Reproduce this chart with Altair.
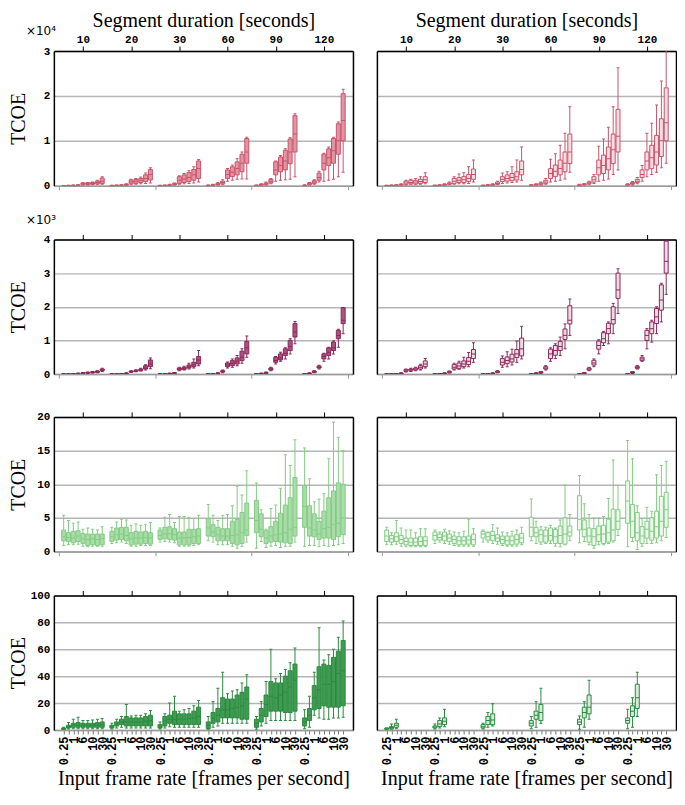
import altair as alt
import pandas as pd
import json

DURATIONS = ["10", "20", "30", "60", "90", "120"]
FPS_LABELS = ["0.25", "", "1", "", "6", "", "10", "", "30"]
TOP_TITLE = "Segment duration [seconds]"
BOTTOM_TITLE = "Input frame rate [frames per second]"
Y_TITLE = "TCOE"
Y_MAX = [3, 4, 20, 100]
Y_TICKS = [[0, 1, 2, 3], [0, 1, 2, 3, 4], [0, 5, 10, 15, 20], [0, 20, 40, 60, 80, 100]]
MULTIPLIERS = ["×10⁴", "×10³", "", ""]

# ---- data: per panel, per segment duration group, per frame-rate slot ----
# Row 1 (x10^4)
R1L = {
    "lo":  [[0,0,0,0,0.01,0.01,0.02,0.02,0.03],[0,0,0,0.005,0.02,0.03,0.04,0.05,0.06],[0,0,0,0.01,0.03,0.04,0.05,0.06,0.08],
            [0,0,0.01,0.02,0.1,0.12,0.14,0.15,0.15],[0,0,0.01,0.04,0.1,0.12,0.13,0.14,0.2],[0,0.01,0.03,0.08,0.1,0.12,0.14,0.2,0.3]],
    "q1":  [[0,0,0,0.005,0.02,0.025,0.03,0.04,0.05],[0,0,0.005,0.01,0.04,0.05,0.07,0.09,0.125],[0,0,0.005,0.02,0.05,0.07,0.09,0.12,0.16],
            [0,0.01,0.02,0.04,0.16,0.2,0.24,0.31,0.5],[0,0.005,0.02,0.06,0.24,0.31,0.35,0.49,0.75],[0,0.02,0.05,0.12,0.35,0.45,0.5,0.7,1.0]],
    "med": [[0,0,0.005,0.01,0.04,0.045,0.05,0.07,0.1],[0,0.005,0.01,0.02,0.08,0.1,0.12,0.16,0.25],[0,0.005,0.01,0.03,0.12,0.15,0.18,0.24,0.38],
            [0.005,0.015,0.03,0.07,0.25,0.3,0.38,0.5,0.75],[0.005,0.02,0.04,0.1,0.35,0.45,0.55,0.75,1.15],[0.005,0.04,0.08,0.18,0.5,0.62,0.78,1.0,1.45]],
    "q3":  [[0,0.005,0.01,0.015,0.06,0.065,0.07,0.1,0.17],[0.005,0.01,0.015,0.03,0.125,0.14,0.16,0.24,0.36],[0.005,0.01,0.02,0.05,0.2,0.24,0.29,0.36,0.55],
            [0.01,0.02,0.05,0.1,0.35,0.42,0.53,0.7,1.05],[0.01,0.03,0.06,0.14,0.53,0.64,0.79,1.04,1.56],[0.01,0.06,0.11,0.28,0.7,0.82,1.05,1.38,2.05]],
    "hi":  [[0.005,0.01,0.015,0.02,0.065,0.07,0.08,0.12,0.2],[0.01,0.015,0.02,0.04,0.14,0.16,0.19,0.28,0.4],[0.01,0.015,0.03,0.06,0.22,0.27,0.33,0.42,0.58],
            [0.015,0.03,0.07,0.13,0.38,0.46,0.6,0.75,1.08],[0.015,0.04,0.08,0.16,0.55,0.67,0.82,1.07,1.6],[0.02,0.07,0.13,0.32,0.72,0.86,1.08,1.42,2.15]],
}
R1R = {
    "lo":  [[0,0,0,0.005,0.01,0.02,0.02,0.03,0.04],[0,0,0.005,0.02,0.03,0.04,0.04,0.05,0.08],[0,0,0.005,0.02,0.05,0.06,0.07,0.08,0.12],
            [0,0.005,0.01,0.03,0.08,0.1,0.12,0.15,0.3],[0,0.01,0.02,0.05,0.1,0.12,0.15,0.25,0.35],[0,0.01,0.04,0.1,0.2,0.25,0.3,0.4,0.5]],
    "q1":  [[0,0,0.005,0.01,0.03,0.04,0.04,0.05,0.07],[0,0.005,0.01,0.03,0.05,0.07,0.07,0.09,0.14],[0,0.005,0.01,0.03,0.09,0.1,0.11,0.125,0.24],
            [0.005,0.01,0.02,0.05,0.16,0.2,0.24,0.31,0.49],[0.005,0.02,0.04,0.08,0.24,0.27,0.35,0.49,0.75],[0.01,0.03,0.07,0.18,0.35,0.38,0.46,0.65,1.0]],
    "med": [[0,0.005,0.01,0.02,0.06,0.07,0.08,0.09,0.13],[0.005,0.01,0.02,0.04,0.1,0.12,0.13,0.16,0.25],[0.005,0.01,0.02,0.05,0.14,0.16,0.18,0.2,0.36],
            [0.01,0.02,0.04,0.08,0.27,0.32,0.38,0.5,0.75],[0.01,0.03,0.06,0.13,0.4,0.45,0.6,0.8,1.1],[0.02,0.05,0.1,0.25,0.55,0.62,0.75,1.0,1.4]],
    "q3":  [[0.005,0.01,0.015,0.03,0.1,0.12,0.12,0.14,0.2],[0.01,0.015,0.03,0.06,0.16,0.18,0.2,0.25,0.37],[0.01,0.015,0.03,0.08,0.2,0.24,0.27,0.31,0.55],
            [0.015,0.03,0.06,0.12,0.38,0.46,0.57,0.75,1.15],[0.02,0.04,0.08,0.2,0.57,0.68,0.86,1.15,1.7],[0.03,0.07,0.14,0.35,0.75,0.9,1.12,1.49,2.18]],
    "hi":  [[0.01,0.015,0.02,0.04,0.12,0.14,0.16,0.2,0.29],[0.01,0.02,0.04,0.08,0.2,0.26,0.29,0.42,0.57],[0.01,0.02,0.04,0.1,0.28,0.31,0.42,0.57,0.86],
            [0.02,0.04,0.08,0.16,0.59,0.71,0.9,1.17,1.76],[0.03,0.05,0.1,0.25,0.88,1.04,1.3,1.76,2.63],[0.04,0.09,0.18,0.45,1.17,1.39,1.8,2.33,3.3]],
}
# Row 2 (x10^3)
R2L = {
    "lo":  [[0,0,0,0,0.01,0.02,0.03,0.04,0.08],[0,0,0,0.005,0.05,0.07,0.09,0.12,0.16],[0,0,0,0.01,0.1,0.12,0.15,0.18,0.25],
            [0,0,0.01,0.04,0.18,0.2,0.25,0.32,0.5],[0,0,0.01,0.1,0.3,0.38,0.45,0.6,0.9],[0,0.005,0.04,0.15,0.38,0.45,0.6,0.8,1.2]],
    "q1":  [[0,0,0,0.01,0.02,0.03,0.04,0.05,0.1],[0,0,0.005,0.01,0.06,0.08,0.1,0.15,0.22],[0,0,0.005,0.02,0.12,0.14,0.18,0.22,0.3],
            [0,0.005,0.02,0.06,0.22,0.25,0.3,0.4,0.6],[0,0.01,0.02,0.12,0.35,0.42,0.55,0.7,1.1],[0,0.01,0.05,0.18,0.45,0.55,0.7,1.05,1.5]],
    "med": [[0,0,0.005,0.015,0.03,0.04,0.05,0.07,0.12],[0,0.005,0.01,0.02,0.07,0.09,0.12,0.18,0.3],[0,0.005,0.01,0.03,0.15,0.17,0.22,0.28,0.42],
            [0.005,0.01,0.025,0.08,0.27,0.32,0.38,0.5,0.78],[0.005,0.015,0.03,0.15,0.4,0.48,0.62,0.82,1.25],[0.005,0.02,0.07,0.2,0.52,0.65,0.78,1.15,1.6]],
    "q3":  [[0,0.005,0.01,0.02,0.04,0.05,0.07,0.09,0.15],[0.005,0.01,0.015,0.03,0.09,0.11,0.15,0.25,0.42],[0.005,0.01,0.02,0.04,0.18,0.2,0.27,0.35,0.52],
            [0.01,0.015,0.03,0.1,0.33,0.4,0.48,0.68,0.97],[0.01,0.02,0.05,0.18,0.5,0.6,0.75,1.0,1.5],[0.01,0.03,0.09,0.24,0.6,0.78,0.95,1.3,1.97]],
    "hi":  [[0.005,0.01,0.015,0.03,0.05,0.06,0.08,0.1,0.17],[0.01,0.015,0.02,0.04,0.1,0.13,0.17,0.28,0.48],[0.01,0.015,0.03,0.05,0.2,0.23,0.32,0.45,0.7],
            [0.015,0.02,0.04,0.12,0.36,0.45,0.55,0.75,1.13],[0.015,0.03,0.06,0.2,0.52,0.65,0.78,1.05,1.56],[0.015,0.04,0.1,0.26,0.62,0.8,0.98,1.33,1.98]],
}
R2R = {
    "lo":  [[0,0,0,0.005,0.06,0.08,0.1,0.12,0.18],[0,0,0.005,0.03,0.12,0.14,0.18,0.22,0.35],[0,0,0.005,0.04,0.2,0.22,0.27,0.35,0.45],
            [0,0.005,0.02,0.12,0.38,0.46,0.55,0.75,1.15],[0,0.01,0.1,0.22,0.6,0.85,0.9,1.2,1.8],[0,0.02,0.15,0.38,0.75,0.95,1.2,1.55,2.37]],
    "q1":  [[0,0,0.005,0.01,0.08,0.1,0.12,0.15,0.22],[0,0.005,0.01,0.04,0.15,0.17,0.22,0.28,0.46],[0,0.005,0.01,0.05,0.27,0.31,0.36,0.49,0.54],
            [0,0.01,0.03,0.15,0.46,0.56,0.7,1.03,1.49],[0,0.02,0.12,0.27,0.74,0.93,1.2,1.49,2.25],[0,0.03,0.17,0.4,1.0,1.2,1.5,1.9,3.0]],
    "med": [[0,0.005,0.01,0.02,0.1,0.13,0.15,0.2,0.3],[0.005,0.01,0.02,0.06,0.2,0.24,0.3,0.38,0.6],[0.005,0.01,0.02,0.07,0.35,0.4,0.45,0.6,0.75],
            [0.005,0.02,0.05,0.18,0.6,0.7,0.82,1.15,1.6],[0.005,0.03,0.15,0.33,0.85,1.05,1.35,1.62,2.5],[0.005,0.05,0.2,0.45,1.15,1.35,1.7,2.2,3.35]],
    "q3":  [[0.005,0.01,0.015,0.03,0.13,0.15,0.18,0.25,0.39],[0.01,0.015,0.03,0.08,0.28,0.33,0.39,0.49,0.73],[0.01,0.015,0.03,0.09,0.46,0.51,0.59,0.73,1.07],
            [0.01,0.03,0.07,0.22,0.74,0.85,0.97,1.34,2.03],[0.01,0.04,0.18,0.41,0.98,1.23,1.51,2.0,3.0],[0.01,0.07,0.23,0.5,1.3,1.55,1.95,2.65,3.95]],
    "hi":  [[0.01,0.015,0.02,0.04,0.15,0.17,0.2,0.29,0.46],[0.015,0.02,0.04,0.09,0.32,0.38,0.5,0.64,0.93],[0.015,0.02,0.04,0.1,0.54,0.66,0.74,0.98,1.42],
            [0.015,0.04,0.08,0.25,0.78,0.9,1.1,1.49,2.23],[0.015,0.05,0.2,0.45,1.02,1.27,1.55,2.1,3.13],[0.015,0.08,0.25,0.55,1.35,1.6,2.0,2.7,4.3]],
}
# Row 3
R3L = {
    "lo":  [[0.9,1.0,1.0,1.1,0.8,0.7,0.8,0.8,0.8],[1.2,1.3,1.4,1.2,0.8,0.8,0.9,0.9,0.9],[1.4,1.5,1.4,1.3,0.8,0.8,0.8,0.9,1.0],
            [1.6,1.4,1.0,1.0,1.0,0.8,0.5,0.8,1.4],[0.5,1.5,0.6,0.8,0.9,0.6,0.7,0.8,1.4],[0.8,0.9,0.9,0.7,0.9,0.8,0.9,1.0,1.2]],
    "q1":  [[1.6,1.5,1.3,1.5,1.2,0.9,1.0,0.9,1.0],[1.5,1.7,1.8,1.6,1.0,1.1,1.1,1.2,1.1],[1.8,1.9,1.8,1.7,1.0,1.0,1.0,1.2,1.2],
            [2.3,2.2,1.6,1.6,1.6,1.2,1.0,1.2,2.4],[2.8,2.2,1.2,1.4,1.5,1.4,1.3,1.2,2.3],[3.6,2.3,2.2,1.8,2.0,2.0,1.8,2.2,2.5]],
    "med": [[2.2,2.1,2.0,2.3,1.9,1.8,1.9,1.8,1.9],[2.2,2.5,2.6,2.4,1.9,2.0,2.0,2.1,2.0],[2.4,2.6,2.7,2.5,2.0,2.0,2.1,2.2,2.3],
            [3.5,2.9,2.5,2.3,2.3,2.4,2.5,2.8,3.2],[4.6,3.3,2.0,2.3,2.5,2.6,2.8,3.3,3.6],[6.7,3.5,3.2,2.6,3.4,3.6,4.0,4.2,5.0]],
    "q3":  [[3.2,2.8,3.0,3.1,2.7,2.6,2.6,2.6,2.6],[3.0,3.5,3.6,3.6,2.8,3.0,2.9,3.0,2.8],[3.2,3.6,3.7,3.4,2.9,2.9,3.3,3.3,3.4],
            [4.9,4.0,3.6,3.4,3.4,4.5,4.8,5.8,7.2],[7.6,5.6,3.1,3.7,4.5,5.7,6.9,8.0,11.0],[9.8,6.8,5.6,4.5,6.0,8.0,9.0,10.2,10.0]],
    "hi":  [[5.4,4.6,4.2,4.4,3.3,3.5,3.3,3.2,3.7],[3.6,4.4,4.8,4.7,3.9,4.1,3.9,4.0,4.3],[3.5,5.1,5.5,4.3,5.2,5.2,5.1,4.9,5.4],
            [7.0,5.4,4.6,5.4,5.5,6.8,9.7,8.4,12.0],[10.2,6.2,3.3,6.4,6.9,9.4,14.4,12.8,16.6],[15.4,10.8,7.4,7.8,8.6,13.8,19.2,17.0,15.0]],
}
R3R = {
    "lo":  [[1.0,1.0,1.1,0.8,0.7,0.7,0.7,0.7,0.7],[1.2,1.4,1.2,1.1,0.9,0.8,0.8,0.8,0.8],[1.4,1.4,1.2,1.1,0.9,0.8,0.8,0.8,1.0],
            [1.6,1.2,1.1,1.2,1.2,0.8,0.7,1.0,1.6],[1.3,1.5,1.0,0.5,1.0,1.0,1.2,1.4,2.4],[0.7,1.5,0.3,0.8,1.2,1.2,1.3,1.6,2.1]],
    "q1":  [[1.5,1.4,1.5,1.2,1.0,0.9,0.9,0.9,0.9],[1.7,1.7,1.6,1.5,1.2,1.0,1.0,1.1,1.0],[2.0,1.7,1.6,1.5,1.2,1.0,1.0,1.1,1.3],
            [2.2,2.2,1.4,1.4,1.6,1.2,1.2,1.1,2.3],[3.2,2.2,1.4,0.9,1.5,1.2,1.4,1.6,3.3],[4.2,2.1,1.6,1.2,2.0,1.7,2.0,2.3,3.6]],
    "med": [[2.3,1.9,2.2,1.8,1.5,1.4,1.4,1.5,1.6],[2.4,2.1,2.3,2.0,1.8,1.6,1.6,1.7,1.8],[2.6,2.2,2.4,2.0,1.8,1.6,1.6,1.8,2.0],
            [3.6,2.8,2.5,2.3,2.4,2.2,2.4,2.6,2.9],[4.8,3.3,2.3,2.2,2.5,2.6,2.8,3.2,4.5],[7.5,4.5,2.8,2.3,3.3,3.0,3.7,4.5,6.2]],
    "q3":  [[3.2,2.4,2.8,2.4,2.0,2.0,2.0,2.2,2.2],[2.9,2.6,2.9,2.6,2.3,2.2,2.2,2.3,2.6],[3.0,2.8,3.0,2.5,2.3,2.3,2.3,2.5,2.7],
            [5.1,3.6,3.2,3.2,3.5,3.3,3.8,5.0,3.8],[8.3,4.7,3.5,3.4,3.8,3.9,4.8,6.3,6.2],[10.5,7.0,5.8,3.7,4.5,5.0,6.0,8.2,8.8]],
    "hi":  [[3.6,2.8,4.6,3.5,3.2,3.2,2.8,3.4,3.4],[3.2,2.9,3.3,3.1,2.9,2.8,3.0,4.8,3.4],[3.2,2.9,4.0,3.5,2.9,2.8,3.0,3.2,3.6],
            [7.8,4.5,3.7,3.6,3.9,3.5,4.7,9.9,5.5],[11.3,7.1,5.5,5.0,5.0,5.2,7.9,13.6,9.8],[16.5,13.8,6.8,4.9,6.6,6.0,11.4,12.8,13.4]],
}
# Row 4
R4L = {
    "lo":  [[0.3,0.8,1.0,1.0,1.0,1.0,1.0,1.0,1.0],[0.8,1.5,2.0,1.5,1.5,1.5,1.5,1.5,1.5],[0.8,1.5,2.5,2.0,2.0,2.0,2.0,2.0,2.0],
            [0.5,2.0,3.0,5.0,5.0,5.0,5.0,5.0,5.0],[0.5,3.0,5.0,7.0,7.0,7.0,7.0,7.0,7.0],[1.0,2.0,11.0,9.0,8.0,8.0,9.0,9.0,9.5]],
    "q1":  [[0.5,1.5,2.0,2.0,2.0,2.0,2.0,2.0,2.0],[1.5,3.0,4.0,3.0,3.0,3.0,3.0,3.0,3.0],[1.5,3.0,5.0,4.0,4.0,4.0,4.0,4.0,4.0],
            [1.0,5.0,6.0,9.0,9.0,9.0,9.0,8.0,8.0],[2.0,6.0,10.0,14.0,14.0,14.0,13.0,13.0,14.0],[3.0,7.0,15.0,16.0,18.0,17.0,17.0,17.0,18.0]],
    "med": [[1.0,2.5,3.5,3.5,3.5,3.5,3.5,3.5,4.0],[2.5,4.5,6.0,6.0,6.0,6.0,6.0,6.5,7.0],[3.0,6.5,8.0,8.0,8.0,8.0,8.5,9.0,10.0],
            [3.5,9.0,11.0,15.0,15.0,16.0,17.0,18.0,23.0],[5.0,11.0,19.0,25.0,24.0,26.0,28.0,32.0,37.0],[6.0,11.0,24.0,30.0,34.0,34.0,36.0,42.0,44.0]],
    "q3":  [[1.5,3.5,5.0,5.5,5.0,5.0,5.0,5.5,6.0],[3.5,6.0,8.0,10.0,9.0,9.0,9.0,10.0,11.0],[4.0,10.0,11.0,14.0,12.0,12.0,12.0,14.0,17.0],
            [6.0,13.0,16.0,24.0,23.0,23.0,26.0,28.0,32.0],[8.0,16.0,26.0,36.0,35.0,35.0,40.0,44.0,49.0],[9.0,16.0,33.0,47.0,49.0,48.0,54.0,58.5,66.5]],
    "hi":  [[2.0,5.5,8.0,9.5,7.0,7.0,7.5,8.0,8.5],[5.0,8.0,10.0,19.0,10.5,11.0,11.0,12.0,14.5],[6.0,12.0,20.0,25.0,14.0,15.0,16.0,18.0,22.0],
            [10.0,21.0,31.0,43.0,27.0,29.0,30.0,35.0,41.0],[10.0,21.0,36.0,60.0,38.0,42.0,45.0,50.0,61.0],[15.0,25.0,43.0,76.0,52.0,56.0,60.0,69.0,81.0]],
}
# only the three lowest frame rates exist in this panel
R4R = {
    "lo":  [[0.3,0.5,1.0],[0.8,1.5,2.5],[0.8,2.0,3.0],[1.0,2.0,5.0],[0.5,2.0,8.0],[1.0,2.0,10.0]],
    "q1":  [[0.5,1.0,2.0],[1.5,2.5,4.0],[1.5,4.0,4.0],[3.0,8.0,7.0],[4.0,9.0,12.0],[5.0,10.0,16.0]],
    "med": [[1.0,1.8,3.5],[2.2,4.5,6.5],[2.5,7.0,7.5],[5.0,11.0,13.0],[6.0,13.0,17.0],[7.0,14.0,24.0]],
    "q3":  [[1.5,2.5,5.0],[3.0,7.0,9.0],[4.0,10.0,12.0],[7.0,14.0,19.0],[8.0,17.0,26.0],[9.0,18.0,34.0]],
    "hi":  [[1.5,4.5,8.0],[4.5,9.0,15.5],[5.0,13.0,19.5],[10.0,21.0,31.0],[10.5,21.0,37.0],[15.5,24.0,43.0]],
}
PANELS = [[R1L, R1R], [R2L, R2R], [R3L, R3R], [R4L, R4R]]

ROW_STYLE = [
    {"stroke": "#c8546c", "fill_l": "#e3949f", "fill_r": "#f6dbe0"},
    {"stroke": "#8c2858", "fill_l": "#a8547e", "fill_r": "#efd9e4"},
    {"stroke": "#84cc84", "fill_l": "#a9dca9", "fill_r": "#eef8ee"},
    {"stroke": "#2a8a3d", "fill_l": "#3f9b52", "fill_r": "#d6ebd9"},
]
ROW_GAPS = [54, 43, 44]

MONO = "Liberation Mono"
SERIF = "Liberation Serif"
W, H = 300, 135


def to_df(d):
    rows = []
    for g in range(6):
        for s in range(len(d["q1"][g])):
            rows.append({
                "pos": g * 10 + s + 1,
                "lo": d["lo"][g][s], "q1": d["q1"][g][s], "med": d["med"][g][s],
                "q3": d["q3"][g][s], "hi": d["hi"][g][s],
            })
    return pd.DataFrame(rows)


TOP_EXPR = json.dumps(DURATIONS) + "[floor(datum.value / 10)]"
BOT_EXPR = json.dumps(FPS_LABELS) + "[round(datum.value - 1) % 10]"
SLOT_POS = [g * 10 + s + 1 for g in range(6) for s in range(9)]


def make_panel(r, c):
    st = ROW_STYLE[r]
    df = to_df(PANELS[r][c])
    base = alt.Chart(df)
    xs = alt.Scale(domain=[0, 60], nice=False, zero=False)
    ys = alt.Scale(domain=[0, Y_MAX[r]], nice=False, zero=True)

    top_axis = alt.Axis(
        orient="top", values=[g * 10 + 5 for g in range(6)], labels=(r == 0),
        labelExpr=TOP_EXPR, labelFont=MONO, labelFontWeight="bold", labelFontSize=11,
        labelColor="black", labelPadding=2, labelFlush=False,
        ticks=True, tickSize=5, tickColor="black", tickWidth=1,
        domain=True, domainColor="black", domainWidth=1.5, grid=False,
        titleFont=SERIF, titleFontSize=20, titleFontWeight="normal", titleColor="black",
        titlePadding=3,
    )
    if r == 3:
        bottom_axis = alt.Axis(
            orient="bottom", values=SLOT_POS, labelExpr=BOT_EXPR, labelAngle=270,
            labelAlign="right", labelBaseline="middle", labelOverlap=False, labelFlush=False,
            labelBound=False, labelFont=MONO, labelFontWeight="bold", labelFontSize=12,
            labelColor="black", labelPadding=2,
            ticks=True, tickSize=4, tickColor="#777777", tickWidth=1,
            domain=True, domainColor="#9a9a9a", domainWidth=1.5, grid=False,
            titleFont=SERIF, titleFontSize=20, titleFontWeight="normal", titleColor="black",
            titlePadding=4,
        )
    else:
        bottom_axis = alt.Axis(
            orient="bottom", values=[0, 20, 40, 60], labels=False,
            ticks=True, tickSize=4, tickColor="#9a9a9a", tickWidth=1,
            domain=True, domainColor="#9a9a9a", domainWidth=1.5, grid=False,
        )
    left_axis = alt.Axis(
        orient="left", values=Y_TICKS[r], grid=True, gridColor="#b5b5b5", gridWidth=1.5,
        ticks=False, domain=True, domainColor="black", domainWidth=1.5,
        labels=(c == 0), labelFont=MONO, labelFontWeight="bold", labelFontSize=11,
        labelColor="black", labelPadding=4,
        titleFont=SERIF, titleFontSize=20, titleFontWeight="normal", titleColor="black",
        titleX=-25, titleY=H / 2, titleAngle=270, titleAlign="center",
    )
    right_axis = alt.Axis(
        orient="right", labels=False, ticks=False, grid=False,
        domain=True, domainColor="black", domainWidth=1.5,
    )

    x_none = alt.X("pos:Q", scale=xs, axis=None)

    whisk = base.mark_rule(color=st["stroke"], strokeWidth=1, clip=True).encode(
        x=alt.X("pos:Q", scale=xs, axis=top_axis, title=(TOP_TITLE if r == 0 else None)),
        y=alt.Y("lo:Q", scale=ys, axis=left_axis, title=(Y_TITLE if c == 0 else None)),
        y2="hi:Q",
    )
    cap_hi = base.mark_tick(orient="horizontal", size=3, thickness=1, color=st["stroke"], clip=True, opacity=1).encode(
        x=x_none, y=alt.Y("hi:Q", scale=ys, axis=None))
    cap_lo = base.mark_tick(orient="horizontal", size=3, thickness=1, color=st["stroke"], clip=True, opacity=1).encode(
        x=x_none, y=alt.Y("lo:Q", scale=ys, axis=None))
    box = base.mark_bar(size=4, fill=(st["fill_l"] if c == 0 else st["fill_r"]), stroke=st["stroke"],
                        strokeWidth=1, clip=True, opacity=1).encode(
        x=x_none, y=alt.Y("q1:Q", scale=ys, axis=None), y2="q3:Q")
    med = base.mark_tick(orient="horizontal", size=4, thickness=1, color=st["stroke"], clip=True, opacity=1).encode(
        x=alt.X("pos:Q", scale=xs, axis=bottom_axis, title=(BOTTOM_TITLE if r == 3 else None)),
        y=alt.Y("med:Q", scale=ys, axis=right_axis, title=None),
    )
    layers = [whisk, cap_hi, cap_lo, box, med]
    if c == 0 and MULTIPLIERS[r]:
        mult = alt.Chart(pd.DataFrame({"t": [MULTIPLIERS[r]]})).mark_text(
            align="left", baseline="middle", font="DejaVu Sans", fontSize=12, color="black"
        ).encode(text="t:N", x=alt.value(-28), y=alt.value(-20))
        layers.append(mult)
    return alt.layer(*layers).resolve_axis(x="independent", y="independent").properties(width=W, height=H)


def spacer(h):
    return alt.Chart(pd.DataFrame({"t": [""]})).mark_text().encode(
        text="t:N", x=alt.value(0), y=alt.value(0)
    ).properties(width=W, height=h)


cells = []
for r in range(4):
    cells += [make_panel(r, 0), make_panel(r, 1)]
    if r < 3:
        cells += [spacer(ROW_GAPS[r]), spacer(ROW_GAPS[r])]

chart = alt.concat(*cells, columns=2, spacing={"row": 0, "column": 24}, bounds="flush").properties(
    padding={"left": 0, "top": 0, "right": 0, "bottom": 0}
).configure_view(stroke="transparent")

chart.save("out.html", embed_options={"renderer": "svg", "actions": False})
